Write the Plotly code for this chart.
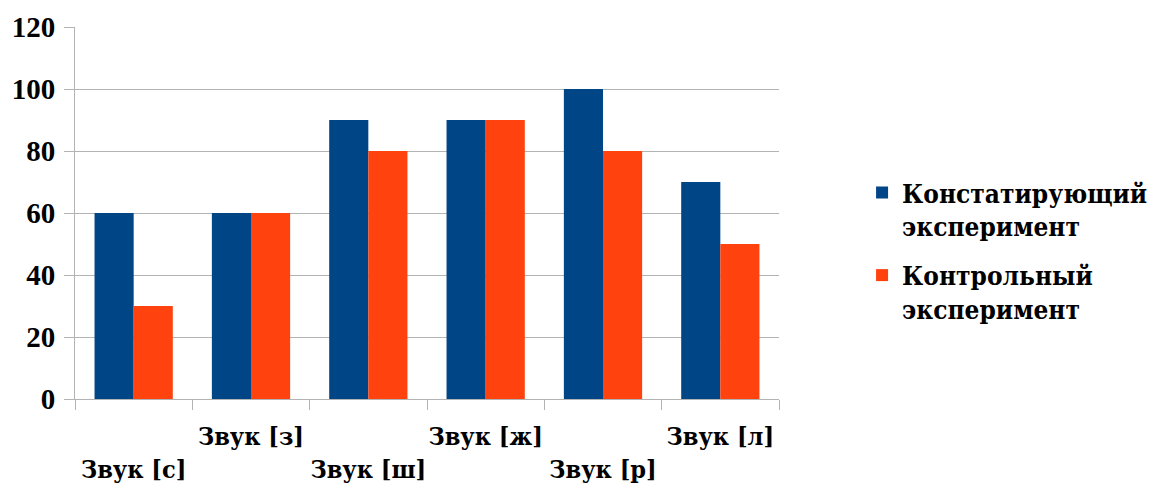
import plotly.graph_objects as go

categories = ["Звук [с]", "Звук [з]", "Звук [ш]", "Звук [ж]", "Звук [р]", "Звук [л]"]
series_names = ["Констатирующий<br>эксперимент", "Контрольный<br>эксперимент"]
constat = [60, 60, 90, 90, 100, 70]
control = [30, 60, 80, 90, 80, 50]
y_ticks = [0, 20, 40, 60, 80, 100, 120]

tick_text = [(" <br>" + c) if i % 2 == 0 else c for i, c in enumerate(categories)]

FONT = "Liberation Serif"
CYR = "DejaVu Serif Condensed, DejaVu Serif"

fig = go.Figure()
fig.add_trace(go.Bar(x=categories, y=constat, name=series_names[0], marker_color="#004586",
                     marker_line_width=0, legendgroup="a"))
fig.add_trace(go.Bar(x=categories, y=control, name=series_names[1], marker_color="#ff420e",
                     marker_line_width=0, legendgroup="b"))

fig.update_layout(
    width=1149, height=482,
    margin=dict(l=67, r=378, t=19, b=91, autoexpand=False),
    paper_bgcolor="white", plot_bgcolor="white",
    barmode="group", bargap=0.333, bargroupgap=0,
    font=dict(family=FONT, color="black"),
    legend=dict(x=1.118, xanchor="left", y=0.618, yanchor="top",
                font=dict(family=CYR, size=26, weight="bold", color="black"),
                valign="top", itemsizing="constant", tracegroupgap=12),
    showlegend=True,
)
fig.update_xaxes(
    type="category", tickmode="array", tickvals=categories, ticktext=tick_text,
    tickson="boundaries", ticks="outside", ticklen=10, tickcolor="#b3b3b3",
    showline=True, linecolor="#b3b3b3", linewidth=1,
    showgrid=False, automargin=False, ticklabelstandoff=15,
    tickfont=dict(family=CYR, size=25, weight="bold", color="black"),
    tickangle=0,
)
fig.update_yaxes(
    range=[0, 120], tickvals=y_ticks, ticks="outside", ticklen=10, tickcolor="#b3b3b3",
    showline=True, linecolor="#b3b3b3", linewidth=1, automargin=False,
    showgrid=True, gridcolor="#b3b3b3", gridwidth=1, zeroline=False,
    ticklabelstandoff=3,
    tickfont=dict(family=FONT, size=29, weight="bold", color="black"),
)

fig.write_html("out.html")
